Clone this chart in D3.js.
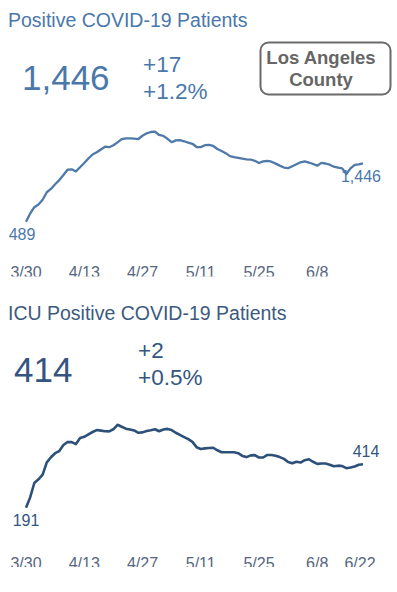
<!DOCTYPE html>
<html>
<head>
<meta charset="utf-8">
<script src="https://cdn.jsdelivr.net/npm/d3@7"></script>
<style>
  body { margin: 0; background: #fff; }
  svg { display: block; font-family: "Liberation Sans", Arial, sans-serif; }
</style>
</head>
<body>
<script>
// daily values starting 3/30
const startDate = '2020-03-30';

const hospitalized = [489, 623, 727, 771, 849, 972, 1026, 1103, 1171, 1254,
  1341, 1348, 1313, 1382, 1451, 1525, 1590, 1626, 1672, 1718,
  1710, 1741, 1790, 1843, 1856, 1856, 1851, 1844, 1898, 1938,
  1959, 1964, 1910, 1895, 1848, 1792, 1821, 1825, 1807, 1785,
  1766, 1713, 1711, 1743, 1748, 1730, 1680, 1648, 1612, 1564,
  1548, 1535, 1523, 1512, 1508, 1487, 1451, 1477, 1484, 1472,
  1441, 1408, 1377, 1367, 1398, 1430, 1462, 1477, 1459, 1435,
  1407, 1453, 1443, 1423, 1390, 1377, 1364, 1271, 1364, 1420,
  1429, 1446];

const icu = [191, 244, 318, 337, 361, 424, 450, 471, 482, 513,
  529, 528, 518, 549, 555, 568, 580, 590, 587, 584,
  583, 594, 617, 607, 597, 593, 588, 576, 578, 585,
  589, 594, 584, 593, 596, 590, 576, 565, 554, 543,
  529, 502, 493, 496, 498, 499, 486, 476, 476, 476,
  476, 471, 457, 451, 460, 461, 449, 449, 462, 462,
  458, 451, 442, 426, 419, 427, 423, 435, 440, 427,
  416, 418, 418, 412, 404, 407, 405, 394, 398, 403,
  412, 414];

const topTicks = ['3/30', '4/13', '4/27', '5/11', '5/25', '6/8'];
const bottomTicks = ['3/30', '4/13', '4/27', '5/11', '5/25', '6/8', '6/22'];

const titles = ['Positive COVID-19 Patients', 'ICU Positive COVID-19 Patients'];
const badgeLines = ['Los Angeles', 'County'];

const width = 397;
const height = 592;

const svg = d3.select('body')
  .append('svg')
  .attr('width', width)
  .attr('height', height);

const start = d3.utcParse('%Y-%m-%d')(startDate);
const parseTick = (t) => d3.utcParse('%Y %m/%d')('2020 ' + t);

function drawPanel(cfg) {
  const data = cfg.values.map((v, i) => ({ date: d3.utcDay.offset(start, i), value: v }));
  const fmt = d3.format(',');
  const last = data[data.length - 1];
  const prev = data[data.length - 2];
  const diff = last.value - prev.value;

  const g = svg.append('g');

  g.append('text')
    .attr('x', 8)
    .attr('y', cfg.titleY)
    .attr('fill', cfg.titleColor)
    .style('font-size', '19.5px')
    .text(cfg.title);

  g.append('text')
    .attr('x', cfg.bigX)
    .attr('y', cfg.bigY)
    .attr('fill', cfg.numColor)
    .style('font-size', '35px')
    .text(fmt(last.value));

  g.append('text')
    .attr('x', cfg.diffX)
    .attr('y', cfg.diffY)
    .attr('fill', cfg.numColor)
    .style('font-size', '22.5px')
    .text('+' + fmt(diff));

  g.append('text')
    .attr('x', cfg.diffX)
    .attr('y', cfg.diffY + 27)
    .attr('fill', cfg.numColor)
    .style('font-size', '22.5px')
    .text('+' + d3.format('.1%')(diff / prev.value));

  const x = d3.scaleUtc()
    .domain(d3.extent(data, (d) => d.date))
    .range([26, 363]);

  const y = d3.scaleLinear()
    .domain(d3.extent(data, (d) => d.value))
    .range(cfg.yRange);

  const line = d3.line()
    .x((d) => x(d.date))
    .y((d) => y(d.value));

  g.append('path')
    .datum(data)
    .attr('fill', 'none')
    .attr('stroke', cfg.lineColor)
    .attr('stroke-width', cfg.lineWidth)
    .attr('stroke-linejoin', 'round')
    .attr('d', line);

  // first / last value labels
  g.append('text')
    .attr('x', x(data[0].date) + cfg.firstDx)
    .attr('y', y(data[0].value) + 18)
    .attr('text-anchor', 'middle')
    .attr('fill', cfg.numColor)
    .style('font-size', '16px')
    .text(fmt(data[0].value));

  g.append('text')
    .attr('x', x(last.date) + cfg.lastDx)
    .attr('y', y(last.value) + cfg.lastDy)
    .attr('text-anchor', 'middle')
    .attr('fill', cfg.numColor)
    .style('font-size', '16px')
    .text(fmt(last.value));

  // date labels, cut off at the bottom like the original
  const clipId = 'clip-' + cfg.key;
  svg.append('clipPath')
    .attr('id', clipId)
    .append('rect')
    .attr('x', 0)
    .attr('y', cfg.tickY - 20)
    .attr('width', width)
    .attr('height', 20 - cfg.tickCut);

  g.append('g')
    .attr('clip-path', `url(#${clipId})`)
    .selectAll('text')
    .data(cfg.ticks)
    .enter()
    .append('text')
    .attr('x', (t) => Math.min(x(parseTick(t)), x.range()[1] - 3))
    .attr('y', cfg.tickY)
    .attr('text-anchor', 'middle')
    .attr('fill', '#566680')
    .style('font-size', '16px')
    .text((t) => t);
}

drawPanel({
  key: 'hosp',
  title: titles[0],
  values: hospitalized,
  ticks: topTicks,
  titleY: 26.5,
  titleColor: '#4a78aa',
  numColor: '#4a78aa',
  lineColor: '#4e79a8',
  lineWidth: 2.3,
  bigX: 22, bigY: 90,
  diffX: 143, diffY: 72,
  yRange: [221.7, 131.7],
  firstDx: -4,
  lastDx: -2, lastDy: 18.5,
  tickY: 278, tickCut: 1.5
});

drawPanel({
  key: 'icu',
  title: titles[1],
  values: icu,
  ticks: bottomTicks,
  titleY: 319.5,
  titleColor: '#3b5a80',
  numColor: '#33557f',
  lineColor: '#2d5079',
  lineWidth: 2.6,
  bigX: 14, bigY: 382,
  diffX: 138, diffY: 358,
  yRange: [507.7, 424.8],
  firstDx: 0,
  lastDx: 3, lastDy: -7.5,
  tickY: 569, tickCut: 2
});

// county badge
const badge = svg.append('g');
badge.append('rect')
  .attr('x', 260.5)
  .attr('y', 42.5)
  .attr('width', 130)
  .attr('height', 52)
  .attr('rx', 8)
  .attr('fill', '#fff')
  .attr('stroke', '#6a6a6a')
  .attr('stroke-width', 2);

badge.selectAll('text')
  .data(badgeLines)
  .enter()
  .append('text')
  .attr('x', 321)
  .attr('y', (d, i) => 64 + i * 22)
  .attr('text-anchor', 'middle')
  .attr('fill', '#666')
  .style('font-size', '18.5px')
  .style('font-weight', 'bold')
  .text((d) => d);
</script>
</body>
</html>
